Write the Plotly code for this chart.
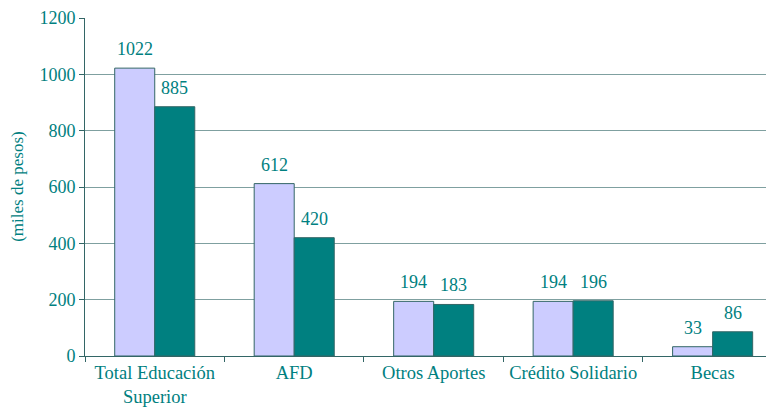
import plotly.graph_objects as go

categories = ["Total Educación<br>Superior", "AFD", "Otros Aportes", "Crédito Solidario", "Becas"]
series_a = [1022, 612, 194, 194, 33]
series_b = [885, 420, 183, 196, 86]
y_ticks = [0, 200, 400, 600, 800, 1000, 1200]

teal = "#008080"
font_family = "Times New Roman, Liberation Serif, DejaVu Serif, serif"
bw = 0.287

fig = go.Figure()
fig.add_trace(go.Bar(x=categories, y=series_a, width=bw, offset=-bw,
                     marker=dict(color="#CCCCFF", line=dict(color="#336666", width=1))))
fig.add_trace(go.Bar(x=categories, y=series_b, width=bw, offset=0,
                     marker=dict(color=teal, line=dict(color="#336666", width=1))))

for i, (a, b) in enumerate(zip(series_a, series_b)):
    for xv, v in ((i - bw / 2, a), (i + bw / 2, b)):
        fig.add_annotation(x=xv, y=v, xref="x", yref="y", text=str(v), showarrow=False,
                           yanchor="bottom", yshift=7,
                           font=dict(color=teal, size=18, family=font_family))

fig.add_annotation(x=-0.099, y=0.5, xref="paper", yref="paper", text="(miles de pesos)", textangle=-90,
                   showarrow=False, xanchor="center", yanchor="middle",
                   font=dict(color=teal, size=17, family=font_family))

fig.update_layout(
    width=766, height=411,
    margin=dict(l=77, r=0, t=10, b=63),
    plot_bgcolor="white", paper_bgcolor="white",
    barmode="group", bargap=0.43, bargroupgap=0,
    showlegend=False,
    font=dict(family=font_family, color=teal, size=17),
)
fig.update_xaxes(
    range=[-0.5, 4.44], tickson="boundaries", ticks="outside", ticklen=5, tickcolor="#336666",
    showline=True, linecolor="#336666", linewidth=1, showgrid=False, automargin=False,
    tickfont=dict(size=18.5, color=teal, family=font_family),
)
fig.update_yaxes(
    range=[0, 1200], tickvals=y_ticks, ticks="outside", ticklen=5, tickcolor="#336666",
    showline=True, linecolor="#336666", linewidth=1, automargin=False,
    showgrid=True, gridcolor="#7FA0A0", gridwidth=1, zeroline=False,
    tickfont=dict(size=18, color=teal, family=font_family),
)

fig.write_html("out.html")
